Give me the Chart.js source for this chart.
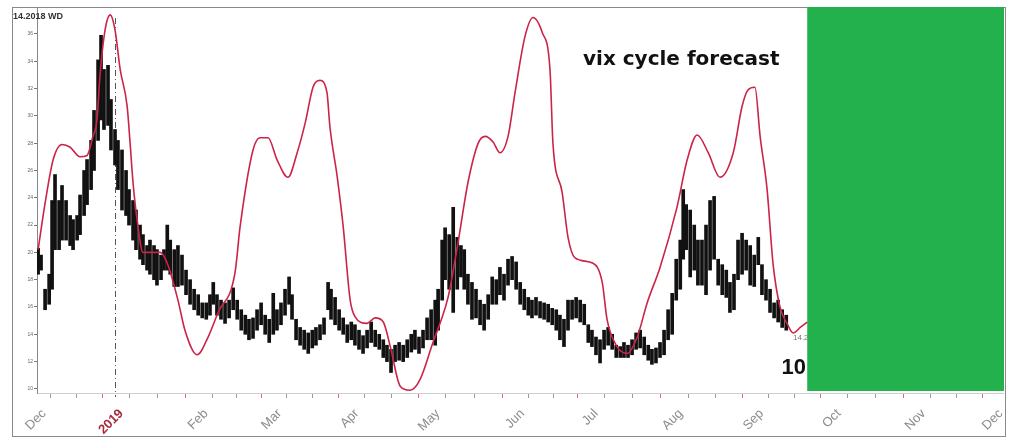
<!DOCTYPE html>
<html>
<head>
<meta charset="utf-8">
<script src="https://cdn.jsdelivr.net/npm/chart.js@4.4.1/dist/chart.umd.min.js"></script>
<style>
  html, body { margin: 0; padding: 0; background: #fff; }
  #wrap { width: 1009px; height: 440px; position: relative; }
</style>
</head>
<body>
<div id="wrap"><canvas id="vixChart" width="1009" height="440"></canvas></div>
<script>
// x = weekday index counted from 1 Dec 2018
const monthStarts = [0, 21, 44, 64, 85, 107, 130, 150, 173, 195, 216, 239, 260];
const monthLabels = ['Dec', '2019', 'Feb', 'Mar', 'Apr', 'May', 'Jun', 'Jul', 'Aug', 'Sep', 'Oct', 'Nov', 'Dec'];
const yTicks = [10, 12, 14, 16, 18, 20, 22, 24, 26, 28, 30, 32, 34, 36];
const yearStart = 21;
const forecastStart = 209;

// red cycle forecast line
const cycleX = [0, 1.9, 4.1, 6.5, 8.7, 11.4, 13.3, 14.9, 16.0, 16.8,
  18.2, 19.6, 20.9, 22.3, 24.2, 25.0, 25.8, 26.9, 28.5, 33.2,
  35.1, 38.0, 39.9, 43.2, 46.2, 48.9, 53.5, 54.9, 58.4, 60.3,
  62.5, 64.9, 67.9, 70.4, 72.6, 74.7, 76.6, 78.5, 79.3, 81.3,
  82.9, 84.8, 86.1, 89.4, 91.6, 93.8, 95.7, 98.4, 101.1, 103.8,
  107.3, 109.2, 111.4, 114.1, 116.8, 119.6, 121.5, 123.6, 125.5, 127.7,
  129.6, 132.3, 134.5, 137.0, 139.1, 139.9, 142.4, 144.0, 145.9, 150.8,
  153.3, 154.6, 157.3, 160.1, 162.8, 165.5, 169.0, 173.6, 176.4, 179.1,
  182.1, 185.3, 188.9, 191.3, 192.9, 194.8, 196.2, 198.1, 199.7, 201.6,
  203.5, 205.2, 207.1, 209.0];
const cycleY = [20.2, 23.6, 26.8, 27.9, 27.7, 27.0, 27.1, 28.5, 29.7, 32.9,
  36.3, 37.4, 36.3, 33.4, 30.7, 28.0, 25.1, 22.4, 20.0, 20.0,
  19.2, 16.5, 14.3, 12.5, 13.8, 15.6, 18.5, 21.9, 27.5, 28.4,
  28.4, 26.8, 25.5, 27.3, 29.5, 32.1, 32.6, 31.7, 29.2, 25.5,
  21.9, 16.5, 15.3, 14.8, 15.2, 14.9, 13.1, 10.2, 9.9, 10.7,
  13.4, 14.8, 16.7, 20.7, 25.1, 28.0, 28.5, 28.1, 27.3, 28.5,
  31.7, 35.8, 37.2, 36.1, 33.4, 28.0, 24.4, 21.1, 19.6, 19.2,
  17.8, 15.1, 13.1, 12.6, 13.8, 16.3, 18.9, 23.3, 26.8, 28.6,
  27.3, 25.5, 27.3, 30.7, 31.9, 32.1, 28.5, 24.6, 19.2, 16.0,
  14.8, 14.1, 14.5, 14.9];

// black daily VIX bars (low / high)
const barX = [0.0, 0.8, 1.9, 3.0, 3.8, 4.6, 5.7, 6.5, 7.6, 8.7,
  9.5, 10.6, 11.4, 12.5, 13.3, 14.4, 15.2, 16.3, 17.1, 17.9,
  19.0, 19.8, 20.9, 21.7, 22.8, 23.9, 24.7, 25.8, 26.6, 27.7,
  28.5, 29.6, 30.4, 31.5, 32.3, 33.4, 34.2, 35.1, 35.9, 37.0,
  38.0, 39.1, 40.2, 41.3, 42.4, 43.5, 44.6, 45.7, 46.7, 47.6,
  48.6, 49.7, 50.8, 51.9, 53.0, 54.1, 55.2, 56.3, 57.3, 58.4,
  59.5, 60.6, 61.7, 62.8, 63.9, 64.9, 66.0, 67.1, 68.2, 69.0,
  70.1, 71.2, 72.3, 73.4, 74.5, 75.5, 76.6, 77.7, 78.8, 79.6,
  80.7, 81.8, 82.9, 84.0, 85.1, 86.1, 87.2, 88.3, 89.4, 90.5,
  91.6, 92.7, 93.8, 94.8, 95.9, 97.0, 98.1, 99.2, 100.3, 101.4,
  102.4, 103.5, 104.6, 105.7, 106.8, 107.9, 108.7, 109.8, 110.6, 111.7,
  112.8, 113.9, 114.9, 115.8, 116.8, 117.9, 119.0, 120.1, 121.2, 122.3,
  123.4, 124.5, 125.5, 126.6, 127.7, 128.8, 129.9, 131.0, 132.1, 133.2,
  134.2, 135.3, 136.4, 137.5, 138.6, 139.7, 140.8, 141.8, 142.9, 144.0,
  145.1, 146.2, 147.3, 148.4, 149.5, 150.5, 151.6, 152.7, 153.8, 154.9,
  156.0, 157.1, 158.2, 159.2, 160.3, 161.4, 162.5, 163.6, 164.7, 165.8,
  166.8, 167.9, 169.0, 170.1, 171.2, 172.3, 173.4, 174.5, 175.3, 176.1,
  177.2, 178.3, 179.3, 180.4, 181.5, 182.6, 183.7, 184.8, 185.9, 187.0,
  188.0, 189.1, 190.2, 191.3, 192.4, 193.5, 194.6, 195.7, 196.7, 197.8,
  198.9, 200.0, 201.1, 202.2, 203.3];
const barLow = [18.4, 18.7, 15.8, 16.2, 17.3, 20.2, 20.2, 20.9, 20.9, 20.5,
  20.2, 20.9, 21.3, 22.7, 23.5, 24.6, 26.0, 28.2, 29.7, 29.0,
  29.3, 27.5, 26.4, 24.6, 23.1, 22.7, 22.0, 20.9, 20.2, 19.5,
  19.1, 18.7, 18.4, 18.0, 17.6, 18.0, 18.7, 18.7, 18.4, 17.5,
  17.5, 17.6, 16.9, 16.2, 15.8, 15.4, 15.2, 15.1, 15.4, 16.2,
  15.4, 15.1, 14.8, 15.2, 15.8, 15.1, 14.3, 14.0, 13.6, 13.7,
  14.3, 14.7, 14.0, 13.4, 14.0, 14.3, 14.7, 15.4, 16.2, 15.1,
  13.6, 13.2, 12.9, 12.6, 13.0, 13.2, 13.6, 14.0, 15.8, 15.1,
  14.7, 14.3, 14.0, 13.4, 13.6, 13.2, 12.9, 12.6, 13.0, 13.4,
  13.1, 12.9, 12.3, 12.0, 11.2, 12.0, 12.1, 12.0, 12.3, 12.7,
  12.9, 12.6, 13.0, 13.6, 13.6, 13.2, 14.3, 16.5, 18.0, 17.3,
  15.6, 17.3, 18.2, 17.3, 16.2, 15.1, 15.2, 14.7, 14.3, 15.1,
  16.2, 16.2, 16.9, 16.5, 17.6, 18.0, 17.3, 16.2, 15.8, 15.4,
  15.2, 15.4, 15.2, 15.1, 14.9, 14.7, 14.3, 13.6, 13.1, 14.3,
  15.1, 15.2, 14.9, 14.7, 13.4, 13.1, 12.5, 11.9, 12.9, 13.2,
  12.9, 12.3, 12.3, 12.3, 12.3, 12.5, 12.9, 13.0, 12.5, 12.1,
  11.8, 11.9, 12.3, 12.5, 13.6, 14.0, 16.5, 17.3, 19.5, 20.2,
  18.2, 18.7, 17.6, 17.6, 16.9, 18.7, 19.5, 17.6, 16.9, 16.7,
  15.6, 15.8, 18.0, 18.4, 18.7, 17.6, 17.5, 19.1, 16.9, 16.5,
  15.6, 15.2, 14.9, 14.5, 14.3];
const barHigh = [20.3, 19.8, 17.3, 18.4, 23.8, 25.7, 23.8, 24.9, 23.8, 22.7,
  22.4, 22.7, 24.2, 26.0, 26.8, 28.2, 30.4, 34.1, 35.9, 33.4,
  33.7, 31.2, 29.0, 28.2, 27.5, 26.0, 24.6, 23.8, 23.1, 22.0,
  21.3, 20.5, 20.9, 20.5, 20.2, 19.8, 20.2, 22.0, 20.9, 20.2,
  20.5, 19.8, 18.7, 18.0, 17.3, 16.9, 16.3, 16.3, 16.9, 17.8,
  16.9, 16.5, 16.3, 16.5, 17.4, 16.5, 15.8, 15.4, 15.1, 15.2,
  15.8, 16.3, 15.4, 15.1, 17.0, 15.8, 16.3, 17.3, 18.2, 16.9,
  15.1, 14.5, 14.3, 14.1, 14.3, 14.5, 14.7, 15.2, 17.8, 17.3,
  16.7, 15.8, 15.2, 14.7, 14.9, 14.7, 14.3, 13.9, 14.3, 14.9,
  14.3, 14.0, 13.6, 13.2, 12.9, 13.2, 13.4, 13.2, 13.6, 14.0,
  14.3, 13.8, 14.3, 15.2, 15.8, 16.5, 17.3, 20.9, 21.8, 21.3,
  23.3, 21.1, 20.5, 20.2, 18.4, 17.8, 17.3, 16.5, 16.2, 16.9,
  18.2, 18.0, 18.9, 18.4, 19.5, 19.7, 19.3, 17.8, 17.3, 16.7,
  16.5, 16.7, 16.4, 16.3, 16.2, 15.9, 15.8, 15.4, 15.1, 16.5,
  16.5, 16.7, 16.5, 16.2, 14.7, 14.3, 13.8, 13.6, 14.3, 14.5,
  14.0, 13.2, 13.1, 13.4, 13.2, 13.6, 14.1, 14.3, 13.8, 13.2,
  12.9, 13.0, 13.4, 14.3, 15.8, 17.0, 19.5, 20.9, 24.6, 23.5,
  23.1, 22.0, 20.9, 20.9, 22.0, 23.8, 24.1, 19.5, 19.1, 18.7,
  17.8, 18.4, 20.9, 21.4, 20.9, 20.5, 19.8, 21.1, 19.1, 18.0,
  17.3, 16.3, 16.5, 15.8, 15.4];

// minor ticks at thirds of each month
const tickPositions = [];
for (let i = 0; i < monthStarts.length; i++) {
  tickPositions.push(monthStarts[i]);
  if (i < monthStarts.length - 1) {
    const len = monthStarts[i + 1] - monthStarts[i];
    tickPositions.push(monthStarts[i] + len / 3, monthStarts[i] + 2 * len / 3);
  }
}

const decor = {
  id: 'decor',
  beforeDraw(chart) {
    const c = chart.ctx;
    c.save();
    c.fillStyle = '#fff';
    c.fillRect(0, 0, chart.width, chart.height);
    c.strokeStyle = '#8a8a8a';
    c.lineWidth = 1;
    c.strokeRect(12.5, 7.5, 993, 429);
    c.restore();
  },
  beforeDatasetsDraw(chart) {
    const c = chart.ctx, a = chart.chartArea, xs = chart.scales.x;
    c.save();
    const gx = xs.getPixelForValue(forecastStart);
    c.fillStyle = '#22b14c';
    c.fillRect(gx, a.top - 1, a.right - gx + 1, a.bottom - a.top - 1);
    const yx = Math.round(xs.getPixelForValue(yearStart)) + 0.5;
    c.strokeStyle = '#555';
    c.lineWidth = 1;
    c.setLineDash([6, 3, 1, 3]);
    c.beginPath();
    c.moveTo(yx, a.top + 10);
    c.lineTo(yx, a.bottom + 4);
    c.stroke();
    c.restore();
  },
  afterDatasetsDraw(chart) {
    const c = chart.ctx;
    c.save();
    c.fillStyle = '#111';
    c.textBaseline = 'middle';
    c.font = 'bold 20px "DejaVu Sans", sans-serif';
    c.fillText('vix cycle forecast', 583, 60);
    c.font = 'bold 22px "Liberation Sans", Arial, sans-serif';
    c.textAlign = 'right';
    c.fillText('10', 806, 368);
    c.textAlign = 'left';
    c.font = 'bold 9px "Liberation Sans", Arial, sans-serif';
    c.fillStyle = '#333';
    c.fillText('14.2018 WD', 13, 17);
    c.font = '8px "Liberation Sans", Arial, sans-serif';
    c.fillStyle = '#777';
    c.fillText('14.2', 793, 338);
    c.restore();
  }
};

new Chart(document.getElementById('vixChart'), {
  type: 'bar',
  data: {
    datasets: [{
      type: 'line',
      label: 'cycle',
      data: cycleX.map((x, i) => ({ x: x, y: cycleY[i] })),
      borderColor: '#cc2446',
      borderWidth: 1.6,
      pointRadius: 0,
      tension: 0.4,
      cubicInterpolationMode: 'monotone',
      order: 1
    }, {
      type: 'bar',
      label: 'VIX',
      data: barX.map((x, i) => ({ x: x, y: [barLow[i], barHigh[i]] })),
      backgroundColor: '#111',
      barThickness: 3,
      grouped: false,
      order: 2
    }]
  },
  options: {
    responsive: false,
    animation: false,
    devicePixelRatio: 1,
    layout: { padding: { left: 12, top: 8, right: 6, bottom: 0 } },
    plugins: { legend: { display: false }, tooltip: { enabled: false } },
    scales: {
      x: {
        type: 'linear',
        min: -0.3,
        max: 262.2,
        offset: false,
        afterBuildTicks: s => { s.ticks = tickPositions.map(v => ({ value: v })); },
        afterFit: s => { s.height = 47; s.paddingLeft = 0; s.paddingRight = 0; },
        ticks: {
          autoSkip: false,
          minRotation: 45,
          maxRotation: 45,
          padding: 8,
          labelOffset: 6,
          color: ctx => (ctx.tick && ctx.tick.value === yearStart) ? '#a8283c' : '#8c8c8c',
          font: ctx => (ctx.tick && ctx.tick.value === yearStart)
            ? { family: 'Liberation Sans', size: 13, weight: 'bold' }
            : { family: 'Liberation Sans', size: 13 },
          callback: v => {
            const k = monthStarts.indexOf(v);
            return k >= 0 ? monthLabels[k] : '';
          }
        },
        grid: {
          drawOnChartArea: false,
          tickLength: 5,
          color: ctx => (ctx.tick && monthStarts.includes(ctx.tick.value)) ? '#e06a7a' : '#999'
        },
        border: { color: '#cfcfcf' }
      },
      y: {
        min: 9.7,
        max: 37.9,
        afterBuildTicks: s => { s.ticks = yTicks.map(v => ({ value: v })); },
        afterFit: s => { s.width = 25; },
        ticks: {
          color: '#666',
          padding: 1,
          font: { family: 'Liberation Sans', size: 5 }
        },
        grid: { drawOnChartArea: false, tickLength: 3, color: '#777' },
        border: { color: '#888' }
      }
    }
  },
  plugins: [decor]
});
</script>
</body>
</html>
